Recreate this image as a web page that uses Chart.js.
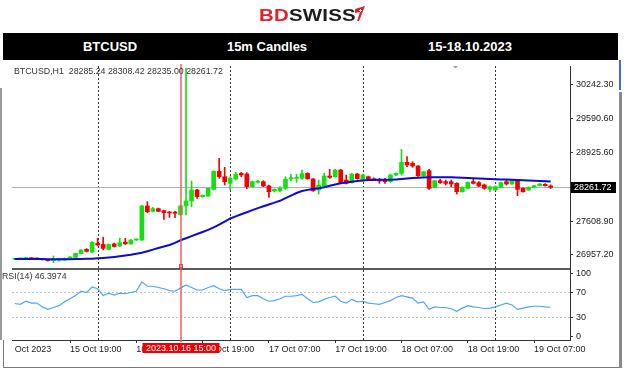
<!DOCTYPE html>
<html><head><meta charset="utf-8">
<script src="https://cdn.jsdelivr.net/npm/chart.js@4.4.0/dist/chart.umd.min.js"></script>
<style>
html,body{margin:0;padding:0;background:#fff;width:624px;height:372px;overflow:hidden;font-family:"Liberation Sans",Arial,sans-serif;}
#wrap{position:relative;width:624px;height:372px;}
#bg{position:absolute;left:0;top:0;}
#logo{position:absolute;left:259px;top:7px;font-weight:bold;font-size:17px;line-height:17px;white-space:nowrap;transform:scaleX(1.2);transform-origin:0 0;letter-spacing:0.2px;}
#logo .r{color:#e3202a;} #logo .k{color:#1c1c1c;}
#flag{position:absolute;left:354px;top:5px;}
#bar{position:absolute;left:3px;top:33px;width:615px;height:27px;background:#000;}
.hd{position:absolute;top:0;height:27px;line-height:28px;color:#fff;font-weight:bold;font-size:13px;transform:translateX(-50%);white-space:nowrap;}
#c1{position:absolute;left:0;top:60px;}
#c2{position:absolute;left:0;top:268px;}
</style></head>
<body><div id="wrap">
<canvas id="bg" width="624" height="372"></canvas>
<div id="logo"><span class="r">BD</span><span class="k">SWISS</span></div>
<svg id="flag" width="12" height="18" viewBox="0 0 12 18"><polygon points="1,4 11,1 5,16 3,16 6,7 1,8" fill="#e3202a"/><rect x="5" y="5" width="3" height="1" fill="#fff"/><rect x="6" y="4" width="1" height="3" fill="#fff"/></svg>
<div id="bar">
  <div class="hd" style="left:107px">BTCUSD</div>
  <div class="hd" style="left:264px">15m Candles</div>
  <div class="hd" style="left:467px">15-18.10.2023</div>
</div>
<canvas id="c1" width="624" height="210"></canvas>
<canvas id="c2" width="624" height="104"></canvas>
</div>
<script>
// ---------------- data ----------------
const symbolName = 'BTCUSD,H1';
const startDay = 15, startHour = 9, candleCount = 98, emptySlots = 3;
const monthName = 'Oct';
const openP = [26875,26882,26888,26898,26886,26882,26865,26848,26855,26860,26885,26912,26982,27065,27013,27180,27160,27065,27170,27130,27205,27170,27245,27245,27900,27797,27848,27810,27784,27784,27732,27900,27996,28208,28079,28092,28220,28567,28464,28336,28420,28528,28515,28272,28355,28368,28285,28188,28195,28240,28420,28432,28432,28528,28420,28208,28285,28477,28464,28593,28400,28349,28515,28387,28464,28426,28413,28400,28368,28496,28528,28740,28720,28670,28477,28580,28259,28387,28368,28368,28336,28175,28240,28368,28349,28304,28220,28208,28259,28368,28323,28400,28240,28208,28259,28291,28317,28285.24];
const highP = [26890,26895,26905,26905,26895,26888,26870,26937,26890,26900,26925,26995,27060,27080,27215,27275,27296,27170,27185,27283,27277,27255,27270,27915,27983,27875,27860,27822,27797,27797,27919,30550,28381,28220,28115,28250,28580,28817,28644,28464,28548,28548,28541,28380,28395,28387,28304,28230,28272,28464,28509,28509,28593,28540,28430,28400,28528,28605,28605,28605,28496,28528,28530,28510,28475,28440,28432,28432,28510,28540,28990,28849,28753,28680,28570,28605,28395,28413,28400,28400,28349,28270,28365,28432,28368,28323,28285,28285,28360,28400,28400,28405,28250,28270,28300,28335,28330,28308.42];
const lowP = [26865,26872,26878,26880,26875,26858,26838,26808,26840,26855,26880,26905,26975,27015,27005,27130,27052,27055,27110,27120,27160,27160,27235,27235,27770,27785,27790,27643,27680,27675,27720,27726,27887,28047,28070,28085,28210,28432,28304,28208,28400,28464,28234,28262,28340,28272,28066,28170,28175,28220,28387,28355,28413,28415,28180,28130,28272,28432,28455,28336,28323,28340,28415,28375,28400,28390,28336,28336,28355,28485,28496,28657,28644,28470,28470,28220,28250,28336,28304,28272,28130,28165,28230,28323,28272,28220,28175,28200,28250,28304,28315,28098,28165,28200,28250,28285,28280,28235.00];
const closeP = [26882,26888,26895,26886,26882,26865,26848,26873,26885,26892,26918,26988,27052,27027,27200,27150,27085,27160,27120,27195,27170,27245,27258,27900,27790,27848,27797,27771,27765,27758,27900,27996,28208,28079,28105,28240,28567,28464,28368,28432,28509,28496,28272,28368,28380,28285,28175,28220,28240,28413,28445,28445,28522,28426,28195,28304,28477,28451,28593,28349,28336,28515,28426,28496,28413,28400,28381,28368,28496,28528,28740,28689,28670,28483,28560,28240,28387,28349,28336,28323,28175,28259,28355,28336,28285,28240,28272,28272,28349,28323,28387,28220,28175,28259,28291,28323,28291,28261.72];
const maLine = [26880,26880,26880,26880,26880,26878,26876,26875,26875,26876,26877,26878,26880,26882,26885,26892,26900,26910,26920,26932,26945,26960,26980,27000,27030,27060,27090,27120,27150,27190,27240,27280,27320,27360,27400,27440,27490,27540,27600,27660,27700,27740,27780,27820,27860,27895,27930,27965,28000,28050,28100,28150,28188,28210,28228,28240,28262,28290,28315,28336,28350,28365,28380,28392,28400,28402,28403,28403,28404,28410,28418,28428,28438,28445,28450,28451,28452,28452,28452,28451,28448,28445,28440,28436,28430,28425,28419,28415,28412,28410,28405,28400,28395,28390,28385,28380,28375,28370];
const rsi14 = [52.4,51,56,53,53,47,43,46,49,55,60,65,72,70,79,76,65,69,66,69,68,70,72,87,80,80,78,76,73,72,77,82,78,74,74,78,81,76,73,75,75,75,62,65,65,60,56,57,60,64,64,65,67,60,54,55,59,62,64,56,53,59,55,56,53,52,51,54,57,62,65,63,61,53,55,43,47,46,46,44,40,45,49,47,46,44,45,47,50,53,50,43,45,47,48,48,47,46.3974];
const priceTicks = [26957.20, 27608.90, 28925.60, 29590.60, 30242.30];
const rsiTicks = [0, 30, 70, 100];
const rsiLevels = [30, 70];
const xTickLabels = ['15 Oct 19:00','16 Oct 07:00','16 Oct 19:00','17 Oct 07:00','17 Oct 19:00','18 Oct 07:00','18 Oct 19:00','19 Oct 07:00'];
const firstTickLabel = 'Oct 2023';
const crossTime = '2023.10.16 15:00';
const priceMin = 26687, priceMax = 30595;

// ---------------- categories ----------------
const pad2 = n => String(n).padStart(2,'0');
const categories = [];
for (let i = 0; i < candleCount; i++) {
  const t = startHour + i;
  categories.push(`${startDay + Math.floor(t/24)} ${monthName} ${pad2(t%24)}:00`);
}
for (let i = 0; i < emptySlots; i++) categories.push('');
const hourOf = i => categories[i] ? parseInt(categories[i].slice(-5,-3),10) : -1;
const crossCat = (() => { const d = parseInt(crossTime.slice(8,10),10); return `${d} ${monthName} ${crossTime.slice(11)}`; })();
const crossIndex = categories.indexOf(crossCat);

const UP = '#14e014', DOWN = '#f20000';
const candleColors = openP.map((o,i) => closeP[i] >= o ? UP : DOWN);
const bodies = openP.map((o,i) => [o, closeP[i]]);
const wicks = lowP.map((l,i) => [l, highP[i]]);
const lastI = candleCount - 1;

Chart.defaults.font.family = '"Liberation Sans", Arial, sans-serif';
Chart.defaults.font.size = 9;
Chart.defaults.color = '#222';

function noPad(s){ s.paddingTop = 0; s.paddingBottom = 0; }

function drawSeparators(chart){
  const {ctx, chartArea:a, scales:{x}} = chart;
  ctx.save();
  ctx.strokeStyle = '#333'; ctx.lineWidth = 1; ctx.setLineDash([2,2]);
  categories.forEach((c,i) => {
    if (hourOf(i) === 0) {
      const px = Math.round(x.getPixelForValue(i)) + 0.5;
      ctx.beginPath(); ctx.moveTo(px, a.top); ctx.lineTo(px, a.bottom); ctx.stroke();
    }
  });
  ctx.restore();
}
function crossX(chart){ return Math.round(chart.scales.x.getPixelForValue(crossIndex)); }

const mainPlugin = {
  id: 'mainDeco',
  beforeDatasetsDraw(chart){
    const {ctx, chartArea:a, scales:{y}} = chart;
    drawSeparators(chart);
    const py = Math.round(y.getPixelForValue(closeP[lastI])) + 0.5;
    ctx.save(); ctx.strokeStyle = '#aab2bb'; ctx.lineWidth = 1;
    ctx.beginPath(); ctx.moveTo(a.left, py); ctx.lineTo(a.right, py); ctx.stroke(); ctx.restore();
  },
  afterDraw(chart){
    const {ctx, chartArea:a, scales:{y}} = chart;
    ctx.save();
    const cx = crossX(chart);
    ctx.strokeStyle = 'rgba(242,90,90,0.9)'; ctx.lineWidth = 1.6;
    ctx.beginPath(); ctx.moveTo(cx, a.top - 2); ctx.lineTo(cx, a.bottom); ctx.stroke();
    ctx.lineWidth = 1; ctx.strokeStyle = '#e84040';
    ctx.strokeRect(cx - 1.5, a.bottom - 4.5, 3, 3);
    ctx.fillStyle = '#5a5a5a';
    ctx.fillRect(a.left, a.bottom - 1, a.right - a.left, 2);
    ctx.fillStyle = '#333'; ctx.font = '8.8px "Liberation Sans", Arial, sans-serif';
    ctx.textBaseline = 'middle'; ctx.textAlign = 'left';
    ctx.fillText(`${symbolName}  ${openP[lastI].toFixed(2)} ${highP[lastI].toFixed(2)} ${lowP[lastI].toFixed(2)} ${closeP[lastI].toFixed(2)}`, a.left + 2, a.top + 5.5);
    const py = Math.round(y.getPixelForValue(closeP[lastI]));
    ctx.fillStyle = '#000';
    ctx.fillRect(a.right + 1, py - 5, 45, 11);
    ctx.fillStyle = '#fff'; ctx.font = '9px "Liberation Sans", Arial, sans-serif';
    ctx.fillText(closeP[lastI].toFixed(2), a.right + 4, py + 0.5);
    ctx.fillStyle = '#9aa0a8';
    ctx.beginPath(); ctx.moveTo(453, a.top); ctx.lineTo(458, a.top); ctx.lineTo(455.5, a.top + 2.5); ctx.closePath(); ctx.fill();
    ctx.restore();
  }
};

new Chart(document.getElementById('c1'), {
  type: 'bar',
  data: {
    labels: categories,
    datasets: [
      {type:'line', data: maLine, borderColor:'#0c0cd0', borderWidth:2, pointRadius:0, tension:0, order:0},
      {data: bodies, backgroundColor: candleColors, barThickness:4, minBarLength:1, grouped:false, borderWidth:0, order:1},
      {data: wicks, backgroundColor: candleColors, barThickness:1, grouped:false, borderWidth:0, order:2}
    ]
  },
  options: {
    responsive:false, animation:false, events:[],
    layout:{padding:{left:12, top:6, bottom:1, right:0}},
    plugins:{legend:{display:false}, tooltip:{enabled:false}},
    scales:{
      x:{display:false, offset:true},
      y:{position:'right', min:priceMin, max:priceMax,
         afterFit(s){ s.width = 54; noPad(s); },
         afterBuildTicks(s){ s.ticks = priceTicks.map(v => ({value:v})); },
         grid:{drawOnChartArea:false, drawTicks:true, tickLength:3, tickColor:'#333'},
         border:{display:true, color:'#333'},
         ticks:{padding:3, color:'#222', callback: v => Number(v).toFixed(2)}}
    }
  },
  plugins:[mainPlugin]
});

const rsiPlugin = {
  id:'rsiDeco',
  beforeDatasetsDraw(chart){ drawSeparators(chart); },
  afterDraw(chart){
    const {ctx, chartArea:a} = chart;
    ctx.save();
    const cx = crossX(chart);
    ctx.strokeStyle = 'rgba(242,90,90,0.9)'; ctx.lineWidth = 1.6;
    ctx.beginPath(); ctx.moveTo(cx, 0); ctx.lineTo(cx, a.bottom + 2); ctx.stroke();
    ctx.font = '9px "Liberation Sans", Arial, sans-serif';
    const w = Math.ceil(ctx.measureText(crossTime).width) + 6;
    ctx.fillStyle = '#f00000';
    ctx.fillRect(cx - w/2, a.bottom + 3, w, 10);
    ctx.fillStyle = '#fff'; ctx.textAlign = 'center'; ctx.textBaseline = 'middle';
    ctx.fillText(crossTime, cx, a.bottom + 8.5);
    ctx.fillStyle = '#333'; ctx.textAlign = 'left';
    ctx.font = '8.8px "Liberation Sans", Arial, sans-serif';
    ctx.fillText(`RSI(14) ${rsi14[lastI].toFixed(4)}`, 2, a.top + 7);
    ctx.restore();
  }
};

new Chart(document.getElementById('c2'), {
  type:'line',
  data:{labels: categories, datasets:[{data: rsi14, borderColor:'#4ea6f5', borderWidth:1.2, pointRadius:0, tension:0}]},
  options:{
    responsive:false, animation:false, events:[],
    layout:{padding:{left:12, top:2, bottom:0, right:0}},
    plugins:{legend:{display:false}, tooltip:{enabled:false}},
    scales:{
      x:{offset:true,
         afterFit(s){ s.height = 32; s.paddingLeft = 0; s.paddingRight = 0; },
         grid:{offset:false, drawOnChartArea:false, drawTicks:true, tickLength:3,
               tickColor: c => { const l = categories[c.index]; return (xTickLabels.includes(l)) ? '#333' : 'rgba(0,0,0,0)'; }},
         border:{display:true, color:'#333'},
         ticks:{autoSkip:false, minRotation:0, maxRotation:0, align:'start', padding:1, color:'#222',
                callback:(v,i) => i === 0 ? firstTickLabel : (xTickLabels.includes(categories[i]) ? categories[i] : '')}},
      y:{position:'right', min:-6, max:106,
         afterFit(s){ s.width = 54; noPad(s); },
         afterBuildTicks(s){ s.ticks = rsiTicks.map(v => ({value:v})); },
         grid:{drawOnChartArea:true, drawTicks:true, tickLength:3, tickColor:'#333',
               color: c => (c.tick && rsiLevels.includes(c.tick.value)) ? '#c4c4c4' : 'rgba(0,0,0,0)'},
         border:{display:true, color:'#333', dash:[2,2]},
         ticks:{padding:3, color:'#222'}}
    }
  },
  plugins:[rsiPlugin]
});

(function(){
  const g = document.getElementById('bg').getContext('2d');
  g.fillStyle = '#fff'; g.fillRect(0,0,624,372);
  g.fillStyle = '#9a9a9a'; g.fillRect(0, 88, 2, 252);
  g.fillStyle = '#7a7a7a'; g.fillRect(3, 340, 1, 28);
  g.fillRect(3, 367, 617, 1);
  g.fillStyle = '#8a8a8a'; g.fillRect(619, 92, 3, 276);
  g.fillStyle = '#3a6fd8'; g.fillRect(619, 60, 2, 30);
})();
</script>
</body></html>
